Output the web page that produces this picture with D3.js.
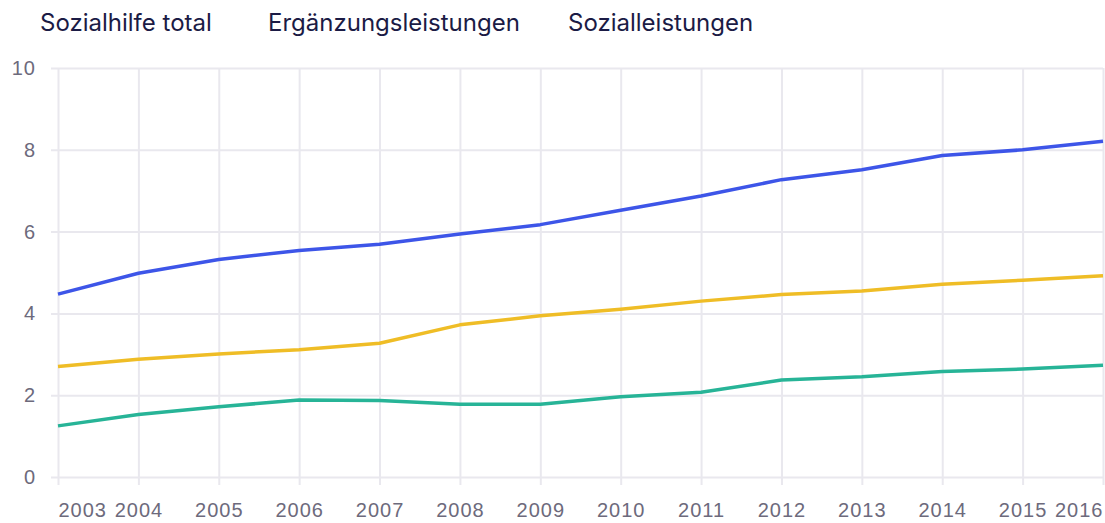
<!DOCTYPE html>
<html>
<head>
<meta charset="utf-8">
<script src="https://cdn.jsdelivr.net/npm/d3@7"></script>
<style>
  html, body { margin: 0; padding: 0; background: #fff; }
  svg { display: block; font-family: Inter, "Noto Sans", sans-serif; }
  .grid line { stroke: #e9e8ee; stroke-width: 2; }
  .axis text { fill: #6d6a7c; font-size: 20px; letter-spacing: 1px; }
</style>
</head>
<body>
<div id="chart"></div>
<script>
// ========== DATA ==========
const years = [2003, 2004, 2005, 2006, 2007, 2008, 2009, 2010, 2011, 2012, 2013, 2014, 2015, 2016];
const sozialhilfeTotal = [4.47, 4.98, 5.32, 5.54, 5.69, 5.94, 6.17, 6.52, 6.87, 7.27, 7.51, 7.86, 8.0, 8.21];
const ergaenzungsleistungen = [2.7, 2.88, 3.01, 3.11, 3.27, 3.72, 3.94, 4.1, 4.3, 4.46, 4.55, 4.71, 4.81, 4.92];
const sozialleistungen = [1.25, 1.53, 1.72, 1.88, 1.87, 1.78, 1.78, 1.96, 2.07, 2.37, 2.45, 2.58, 2.64, 2.73];
const seriesNames = ["Sozialhilfe total", "Ergänzungsleistungen", "Sozialleistungen"];
const seriesColors = ["#3d55e8", "#efbd26", "#27b497"];
const yTicks = [0, 2, 4, 6, 8, 10];

const allSeries = [sozialhilfeTotal, ergaenzungsleistungen, sozialleistungen];

// ========== CHART ==========
const W = 1105, H = 523;
const margin = { top: 68, right: 2, bottom: 46, left: 58 };
const width = W - margin.left - margin.right;
const height = H - margin.top - margin.bottom;

const root = d3.select("#chart").append("svg")
  .attr("width", W)
  .attr("height", H);

// Legend (plain text labels)
const legendX = [40, 268, 568];
root.append("g").selectAll("text").data(seriesNames).enter()
  .append("text")
  .attr("x", (d, i) => legendX[i])
  .attr("y", 31)
  .attr("fill", "#1b1b45")
  .attr("font-size", "24px")
  .text(d => d);

const svg = root.append("g").attr("transform", `translate(${margin.left},${margin.top})`);

const x = d3.scaleLinear().domain([years[0], years[years.length - 1]]).range([0, width]);
const y = d3.scaleLinear().domain([0, 10]).range([height, 0]);

// Horizontal grid + y labels
svg.append("g").attr("class", "grid axis")
  .call(d3.axisLeft(y).tickValues(yTicks).tickSize(-width - 7).tickPadding(22))
  .call(g => g.select(".domain").remove())
  .call(g => g.selectAll(".tick line").attr("x1", -7).attr("x2", width));

// Vertical grid + x labels
svg.append("g").attr("class", "grid axis")
  .attr("transform", `translate(0,${height})`)
  .call(d3.axisBottom(x).tickValues(years).tickFormat(d3.format("d")).tickSize(8).tickPadding(18))
  .call(g => g.select(".domain").remove())
  .call(g => g.selectAll(".tick line").attr("y1", -height).attr("y2", 8))
  .call(g => g.selectAll(".tick text")
    .attr("text-anchor", (d, i) => i === 0 ? "start" : i === years.length - 1 ? "end" : "middle"));

// Lines
const line = d3.line()
  .x((d, i) => x(years[i]))
  .y(d => y(d));

svg.selectAll(".series").data(allSeries).enter()
  .append("path")
  .attr("class", "series")
  .attr("fill", "none")
  .attr("stroke", (d, i) => seriesColors[i])
  .attr("stroke-width", 3.5)
  .attr("stroke-linejoin", "round")
  .attr("d", line);
</script>
</body>
</html>
